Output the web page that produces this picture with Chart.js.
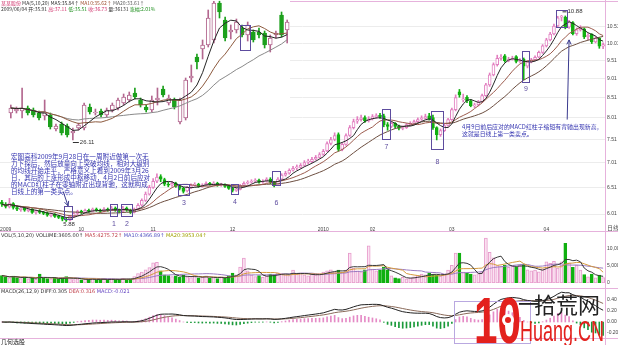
<!DOCTYPE html>
<html>
<head>
<meta charset="utf-8">
<script src="https://cdn.jsdelivr.net/npm/chart.js@4.4.1/dist/chart.umd.min.js"></script>
<style>
  body { margin: 0; background: #fff; }
  #wrap { position: relative; width: 618px; height: 345px; overflow: hidden; background: #fff; }
  canvas { position: absolute; left: 0; }
</style>
</head>
<body>
<div id="wrap">
  <canvas id="price" width="618" height="233" style="top:0"></canvas>
  <canvas id="volume" width="618" height="57" style="top:231px"></canvas>
  <canvas id="macd" width="618" height="57" style="top:288px"></canvas>
  <canvas id="inset" width="290" height="150" style="top:0"></canvas>
</div>
<script>
// ---- main daily chart ----
const monthTicks = [[1, '2009'], [21, '10'], [40, '11'], [61, '12'], [85, '2010'], [98, '02'], [119, '03'], [144, '04']];

const mainOpen = [
  6.23, 6.19, 6.14, 6.20, 6.13, 6.09, 6.12, 6.07, 6.10, 6.04,
  6.07, 6.04, 6.03, 5.98, 6.01, 5.97, 5.95, 5.91, 5.90, 5.97,
  6.02, 6.06, 6.04, 6.08, 6.06, 6.10, 6.08, 6.06, 6.10, 6.08,
  6.12, 6.08, 6.06, 6.12, 6.08, 6.04, 6.10, 6.17, 6.26, 6.38,
  6.51, 6.63, 6.72, 6.66, 6.57, 6.55, 6.59, 6.53, 6.49, 6.44,
  6.51, 6.55, 6.57, 6.53, 6.55, 6.59, 6.57, 6.59, 6.55, 6.57,
  6.53, 6.49, 6.45, 6.47, 6.55, 6.59, 6.61, 6.63, 6.65, 6.61,
  6.63, 6.67, 6.61, 6.55, 6.67, 6.75, 6.79, 6.85, 6.90, 6.91,
  6.95, 7.02, 7.03, 7.08, 7.12, 7.18, 7.26, 7.42, 7.51, 7.62,
  7.29, 7.40, 7.60, 7.78, 7.93, 7.97, 8.02, 7.94, 7.99, 8.04,
  8.07, 8.06, 7.85, 7.81, 7.88, 7.81, 7.76, 7.78, 7.85, 7.88,
  7.92, 7.98, 8.00, 8.06, 8.02, 7.78, 7.62, 7.71, 7.83, 7.97,
  8.21, 8.66, 8.45, 8.52, 8.43, 8.30, 8.33, 8.40, 8.56, 8.84,
  9.11, 9.39, 9.57, 9.64, 9.50, 9.55, 9.62, 9.48, 9.55, 9.35,
  9.47, 9.53, 9.60, 9.74, 9.93, 10.11, 10.29, 10.54, 10.82, 10.82,
  10.50, 10.65, 10.30, 10.42, 10.45, 10.20, 10.28, 10.05, 10.16, 9.92
];
const mainClose = [
  6.19, 6.15, 6.21, 6.13, 6.10, 6.12, 6.08, 6.10, 6.04, 6.06,
  6.04, 6.02, 5.99, 6.01, 5.97, 5.95, 5.92, 5.90, 5.97, 6.02,
  6.06, 6.04, 6.08, 6.06, 6.10, 6.08, 6.06, 6.10, 6.08, 6.12,
  6.08, 6.06, 6.12, 6.08, 6.04, 6.10, 6.17, 6.26, 6.38, 6.51,
  6.63, 6.71, 6.67, 6.57, 6.55, 6.59, 6.53, 6.49, 6.43, 6.51,
  6.55, 6.57, 6.53, 6.55, 6.59, 6.57, 6.59, 6.55, 6.57, 6.53,
  6.49, 6.45, 6.47, 6.55, 6.59, 6.61, 6.63, 6.65, 6.61, 6.63,
  6.67, 6.61, 6.55, 6.67, 6.75, 6.79, 6.85, 6.89, 6.91, 6.95,
  7.01, 7.03, 7.08, 7.12, 7.18, 7.25, 7.42, 7.51, 7.60, 7.29,
  7.40, 7.60, 7.78, 7.92, 7.97, 8.01, 7.94, 7.99, 8.04, 8.06,
  8.04, 7.85, 7.81, 7.88, 7.81, 7.76, 7.78, 7.85, 7.88, 7.92,
  7.97, 8.01, 8.04, 7.99, 7.78, 7.62, 7.71, 7.83, 7.97, 8.21,
  8.51, 8.58, 8.48, 8.43, 8.31, 8.33, 8.40, 8.56, 8.84, 9.11,
  9.39, 9.57, 9.60, 9.50, 9.55, 9.57, 9.48, 9.50, 9.35, 9.47,
  9.53, 9.60, 9.74, 9.93, 10.11, 10.29, 10.54, 10.80, 10.86, 10.50,
  10.67, 10.30, 10.42, 10.47, 10.20, 10.26, 10.05, 10.16, 9.92, 9.97
];
const mainHigh = [
  6.26, 6.22, 6.30, 6.22, 6.16, 6.14, 6.14, 6.13, 6.11, 6.08,
  6.09, 6.06, 6.05, 6.03, 6.02, 5.99, 5.97, 5.94, 5.99, 6.04,
  6.08, 6.08, 6.10, 6.10, 6.12, 6.12, 6.10, 6.13, 6.12, 6.15,
  6.14, 6.10, 6.15, 6.14, 6.10, 6.12, 6.20, 6.29, 6.42, 6.55,
  6.68, 6.78, 6.76, 6.69, 6.61, 6.63, 6.61, 6.56, 6.51, 6.53,
  6.58, 6.60, 6.59, 6.58, 6.62, 6.61, 6.62, 6.61, 6.59, 6.58,
  6.55, 6.51, 6.50, 6.57, 6.62, 6.64, 6.66, 6.68, 6.67, 6.66,
  6.70, 6.70, 6.63, 6.70, 6.78, 6.83, 6.88, 6.93, 6.96, 6.99,
  7.05, 7.08, 7.12, 7.16, 7.22, 7.29, 7.46, 7.56, 7.66, 7.66,
  7.44, 7.64, 7.83, 7.98, 8.04, 8.08, 8.06, 8.04, 8.09, 8.11,
  8.12, 8.10, 7.90, 7.92, 7.90, 7.84, 7.82, 7.88, 7.92, 7.96,
  8.01, 8.06, 8.10, 8.12, 8.08, 7.80, 7.75, 7.86, 8.00, 8.25,
  8.58, 8.72, 8.60, 8.56, 8.46, 8.37, 8.44, 8.60, 8.88, 9.16,
  9.44, 9.66, 9.68, 9.68, 9.60, 9.63, 9.65, 9.56, 9.58, 9.50,
  9.57, 9.64, 9.78, 9.97, 10.16, 10.34, 10.60, 10.85, 10.88, 10.86,
  10.72, 10.68, 10.48, 10.55, 10.48, 10.30, 10.30, 10.22, 10.18, 10.02
];
const mainLow = [
  6.15, 6.12, 6.12, 6.10, 6.07, 6.06, 6.06, 6.05, 6.02, 6.01,
  6.02, 6.00, 5.97, 5.96, 5.95, 5.93, 5.89, 5.88, 5.89, 5.95,
  6.00, 6.02, 6.03, 6.04, 6.05, 6.06, 6.04, 6.05, 6.06, 6.07,
  6.06, 6.03, 6.05, 6.06, 6.02, 6.03, 6.09, 6.15, 6.24, 6.36,
  6.49, 6.60, 6.62, 6.54, 6.52, 6.53, 6.51, 6.46, 6.40, 6.42,
  6.49, 6.53, 6.51, 6.51, 6.54, 6.55, 6.55, 6.53, 6.53, 6.51,
  6.47, 6.42, 6.43, 6.46, 6.53, 6.57, 6.59, 6.61, 6.59, 6.59,
  6.61, 6.58, 6.52, 6.54, 6.65, 6.73, 6.77, 6.83, 6.86, 6.89,
  6.93, 6.98, 7.01, 7.06, 7.10, 7.16, 7.24, 7.39, 7.48, 7.25,
  7.26, 7.38, 7.58, 7.75, 7.88, 7.93, 7.90, 7.91, 7.96, 8.00,
  8.00, 7.80, 7.72, 7.78, 7.77, 7.73, 7.73, 7.76, 7.83, 7.86,
  7.90, 7.95, 7.98, 7.96, 7.74, 7.50, 7.58, 7.69, 7.81, 7.95,
  8.18, 8.52, 8.40, 8.38, 8.28, 8.26, 8.30, 8.38, 8.54, 8.80,
  9.08, 9.35, 9.52, 9.46, 9.47, 9.52, 9.44, 9.45, 8.98, 9.30,
  9.44, 9.50, 9.58, 9.71, 9.90, 10.08, 10.26, 10.50, 10.70, 10.45,
  10.46, 10.26, 10.25, 10.38, 10.15, 10.12, 10.00, 10.02, 9.86, 9.85
];
const mainVolume = [
  2200, 1800, 1500, 2000, 1600, 1300, 1800, 1200, 1500, 1100,
  2600, 1500, 1300, 1200, 1400, 1100, 1600, 1900, 1300, 1000,
  1200, 900, 1100, 1000, 1300, 900, 1000, 1200, 800, 1300,
  1100, 900, 1400, 1000, 1200, 1900, 2800, 3200, 3900, 4500,
  5900, 6100, 3600, 2400, 2200, 1900, 2100, 1700, 2300, 1800,
  1600, 2000, 1500, 1700, 2100, 1400, 1600, 1300, 1800, 1500,
  2100, 2900, 2400, 4700, 7300, 3600, 2300, 1900, 2200, 1700,
  2000, 2600, 2400, 3000, 2800, 2500, 2200, 3800, 2600, 2900,
  2400, 2100, 2600, 2300, 2800, 3200, 3600, 3900, 3300, 3800,
  3200, 3800, 8800, 4400, 3600, 3300, 3900, 10900, 4100, 3600,
  3800, 4700, 3900, 2100, 1500, 1300, 1700, 1200, 1500, 1800,
  2200, 2600, 2400, 2900, 2500, 2300, 2000, 2700, 3800, 5200,
  8800, 8800, 3200, 2900, 2600, 2400, 2800, 3300, 13200, 9000,
  7400, 5100, 4800, 5300, 4600, 5000, 4700, 5300, 5600, 3900,
  3600, 3800, 3300, 4200, 6200, 5800, 6400, 4400, 6200, 11700,
  5900, 4600, 5200, 3800, 2500, 1800, 2600, 1500, 2300, 1600
];
const priceTicks = [10.51, 10.01, 9.51, 9.01, 8.51, 8.01, 7.51, 7.01, 6.51, 6.01];
const volumeTicks = [0, 5000, 10000];
const macdTicks = [-0.2, 0, 0.2, 0.4];

// boxes drawn around candles: first/last candle index, price range, number tag
const boxes = [
  { from: 17, to: 18, hi: 6.15, lo: 5.92, tag: '', tagAt: 0 },
  { from: 29, to: 30, hi: 6.19, lo: 5.97, tag: '1', tagAt: 5.84 },
  { from: 32, to: 34, hi: 6.19, lo: 5.97, tag: '2', tagAt: 5.84 },
  { from: 47, to: 49, hi: 6.57, lo: 6.36, tag: '3', tagAt: 6.21 },
  { from: 61, to: 62, hi: 6.58, lo: 6.39, tag: '4', tagAt: 6.23 },
  { from: 72, to: 73, hi: 6.84, lo: 6.55, tag: '6', tagAt: 6.21 },
  { from: 101, to: 102, hi: 8.23, lo: 7.51, tag: '7', tagAt: 7.35 },
  { from: 114, to: 116, hi: 8.18, lo: 7.29, tag: '8', tagAt: 7.03 },
  { from: 138, to: 139, hi: 9.77, lo: 8.92, tag: '9', tagAt: 8.74 },
  { from: 147, to: 149, hi: 11.05, lo: 10.52, tag: '', tagAt: 0 }
];

const noteBuy = [
  '宏图高科2009年9月28日在一周附近做第一次无',
  '力下探后，然后放量向上突破均线，相对大级别',
  '的均线开始走平，严格意义上看到2009年3月26',
  '日，其后的上涨形成中枢移动，4月2日前后应对',
  '的MACD红柱子在零轴附近出现背驰，这就构成',
  '日线上的第一类买点。'
];
const noteSell = [
  '4月9日前后应对的MACD红柱子缩短有背驰出现新高，',
  '这就是日线上第一类卖点。'
];

// ---- inset chart (another stock, pasted top left) ----
const insetOpen = [
  28.54, 28.72, 28.72, 28.99, 28.81, 28.54, 28.27, 28.36, 27.10, 27.55,
  27.37, 26.74, 27.19, 27.19, 29.08, 28.54, 28.72, 28.36, 28.81, 28.99,
  29.44, 29.71, 30.34, 29.71, 29.08, 28.81, 29.71, 30.70, 29.44, 29.71,
  27.73, 28.09, 31.69, 33.58, 34.30, 34.66, 35.11, 38.44, 36.91, 35.83,
  36.01, 36.19, 35.56, 35.83, 35.83, 35.74, 34.66, 35.56, 37.36, 36.01
];
const insetClose = [
  28.99, 28.90, 28.99, 28.54, 28.36, 28.09, 28.63, 27.28, 27.37, 26.74,
  26.56, 26.92, 27.46, 29.26, 28.63, 28.63, 28.36, 28.81, 29.26, 29.71,
  29.98, 30.16, 29.98, 29.26, 28.81, 29.71, 29.89, 30.16, 29.89, 29.08,
  29.71, 31.51, 31.87, 33.13, 34.66, 37.09, 38.44, 37.63, 35.29, 36.01,
  36.73, 35.56, 36.46, 35.11, 35.56, 34.66, 35.29, 35.74, 35.56, 36.73
];
const insetHigh = [
  29.26, 29.08, 30.79, 29.17, 28.99, 28.72, 29.71, 28.54, 27.55, 27.73,
  27.55, 27.19, 27.64, 29.44, 29.35, 28.90, 28.90, 28.99, 29.44, 29.89,
  30.25, 30.43, 30.79, 29.89, 29.26, 30.07, 30.79, 30.97, 30.16, 29.89,
  29.89, 31.69, 32.86, 33.85, 35.11, 37.81, 38.60, 38.60, 37.18, 36.46,
  37.00, 36.46, 36.73, 36.01, 36.19, 35.92, 35.56, 35.92, 37.63, 36.91
];
const insetLow = [
  28.09, 28.54, 28.09, 28.36, 28.18, 27.91, 27.91, 27.10, 26.92, 26.56,
  26.38, 26.11, 27.01, 27.01, 28.45, 28.36, 28.18, 28.18, 28.63, 28.81,
  29.26, 29.53, 29.80, 29.08, 28.63, 28.63, 29.26, 29.98, 29.26, 28.90,
  27.55, 27.91, 31.33, 32.50, 33.40, 34.48, 34.84, 37.09, 35.02, 35.20,
  35.74, 35.38, 35.02, 34.93, 35.29, 34.39, 34.03, 35.29, 35.38, 34.84
];
const insetBox = { from: 41, to: 42, hi: 36.46, lo: 34.21 };

// ---- helpers ----
Chart.defaults.font.family = '"Liberation Sans", "DejaVu Sans", sans-serif';
Chart.defaults.animation = false;

const PINK = '#e27fc0', GREEN = '#10b010', FRAME = '#e6b2dc', MARK = '#5d4c9e', NOTE = '#3434b0';
const CJK = '"Noto Sans CJK SC", sans-serif';

function sma(arr, n) {
  return arr.map((_, i) => {
    const s = arr.slice(Math.max(0, i - n + 1), i + 1);
    return s.reduce((a, b) => a + b, 0) / s.length;
  });
}
function ema(arr, n) {
  const k = 2 / (n + 1), out = [];
  arr.forEach((v, i) => out.push(i === 0 ? v : out[i - 1] + k * (v - out[i - 1])));
  return out;
}
function candleSets(o, h, l, c, up, upFill, down, thick) {
  const isUp = c.map((v, i) => v >= o[i]);
  return [
    { type: 'bar', data: l.map((v, i) => [v, h[i]]), backgroundColor: isUp.map(u => u ? up : down),
      barThickness: 1, grouped: false, order: 2 },
    { type: 'bar', data: o.map((v, i) => [v, c[i]]), backgroundColor: isUp.map(u => u ? upFill : down),
      borderColor: isUp.map(u => u ? up : down), borderWidth: 1, borderSkipped: false,
      barThickness: thick, minBarLength: 1, grouped: false, order: 1 }
  ];
}
function maLine(data, color) {
  return { type: 'line', data, borderColor: color, borderWidth: 1, pointRadius: 0, tension: 0, order: 0 };
}
function hline(ctx, x0, x1, y) { ctx.beginPath(); ctx.moveTo(x0, y); ctx.lineTo(x1, y); ctx.stroke(); }
function vline(ctx, x, y0, y1) { ctx.beginPath(); ctx.moveTo(x, y0); ctx.lineTo(x, y1); ctx.stroke(); }
function arrow(ctx, x0, y0, x1, y1) {
  ctx.beginPath(); ctx.moveTo(x0, y0); ctx.lineTo(x1, y1); ctx.stroke();
  const a = Math.atan2(y1 - y0, x1 - x0);
  ctx.beginPath();
  ctx.moveTo(x1 - 5 * Math.cos(a - 0.45), y1 - 5 * Math.sin(a - 0.45));
  ctx.lineTo(x1, y1);
  ctx.lineTo(x1 - 5 * Math.cos(a + 0.45), y1 - 5 * Math.sin(a + 0.45));
  ctx.stroke();
}
function segments(ctx, segs, x, y, font) {
  ctx.font = font; ctx.textBaseline = 'middle'; ctx.textAlign = 'left';
  segs.forEach(([t, c]) => { ctx.fillStyle = c; ctx.fillText(t, x, y); x += ctx.measureText(t).width; });
}
const fixAxis = w => s => { s.width = w; s.paddingTop = 0; s.paddingBottom = 0; };

const N = mainClose.length;
const dates = mainClose.map(() => '');
monthTicks.forEach(([i, t]) => { dates[i] = t; });
const upDay = mainClose.map((v, i) => v >= mainOpen[i]);

// ---- price panel ----
const priceMarks = {
  id: 'priceMarks',
  afterDraw(chart) {
    const { ctx, scales: { x, y } } = chart;
    ctx.save();
    ctx.lineWidth = 1;
    ctx.strokeStyle = FRAME;
    hline(ctx, 0, 618, 1.5);
    hline(ctx, 0, 618, 231.5);
    vline(ctx, 605.5, 0, 233);

    ctx.strokeStyle = MARK; ctx.fillStyle = MARK;
    ctx.font = '7px "Liberation Sans"'; ctx.textAlign = 'center'; ctx.textBaseline = 'middle';
    boxes.forEach(b => {
      const x0 = Math.round(x.getPixelForValue(b.from) - 2) + 0.5;
      const x1 = Math.round(x.getPixelForValue(b.to) + 2) + 0.5;
      const y0 = Math.round(y.getPixelForValue(b.hi)) + 0.5;
      const y1 = Math.round(y.getPixelForValue(b.lo)) + 0.5;
      ctx.strokeRect(x0, y0, x1 - x0, y1 - y0);
      if (b.tag) ctx.fillText(b.tag, (x0 + x1) / 2, y.getPixelForValue(b.tagAt));
    });

    // high / low marks
    const hi = mainHigh.indexOf(Math.max(...mainHigh));
    const lo = mainLow.indexOf(Math.min(...mainLow));
    ctx.fillStyle = '#333'; ctx.strokeStyle = '#333';
    ctx.font = '6px "Liberation Sans"'; ctx.textAlign = 'left';
    const hx = x.getPixelForValue(hi), hy = y.getPixelForValue(mainHigh[hi]);
    hline(ctx, hx + 1, hx + 5, hy - 3.5);
    ctx.fillText(mainHigh[hi].toFixed(2), hx + 6, hy - 3.5);
    const lx = x.getPixelForValue(lo), ly = y.getPixelForValue(mainLow[lo]);
    ctx.fillText(mainLow[lo].toFixed(2), lx - 3, ly + 3);

    // notes and arrows
    ctx.fillStyle = NOTE;
    ctx.font = '6.6px ' + CJK;
    noteBuy.forEach((t, i) => ctx.fillText(t, 11, 156 + i * 7));
    ctx.font = '5.9px ' + CJK;
    noteSell.forEach((t, i) => ctx.fillText(t, 462, 127 + i * 7));
    ctx.strokeStyle = '#3a3a8e';
    arrow(ctx, x.getPixelForValue(16.2), y.getPixelForValue(6.43), x.getPixelForValue(17.5), y.getPixelForValue(6.16));
    arrow(ctx, x.getPixelForValue(149.5), y.getPixelForValue(7.97), x.getPixelForValue(150), y.getPixelForValue(10.11));

    ctx.fillStyle = '#555'; ctx.font = '6px ' + CJK;
    ctx.fillText('日线', 607, 228);
    ctx.restore();
  }
};

new Chart(document.getElementById('price'), {
  type: 'bar',
  data: {
    labels: dates,
    datasets: [
      ...candleSets(mainOpen, mainHigh, mainLow, mainClose, PINK, '#ffffff', GREEN, 3),
      maLine(sma(mainClose, 5), '#262626'),
      maLine(sma(mainClose, 10), '#9b5a4c'),
      maLine(sma(mainClose, 20), '#6c4e40')
    ]
  },
  options: {
    responsive: false, devicePixelRatio: 1,
    layout: { padding: 0 },
    plugins: { legend: { display: false }, tooltip: { enabled: false } },
    scales: {
      x: {
        offset: true,
        grid: { display: false, drawTicks: false }, border: { display: false },
        ticks: { autoSkip: false, maxRotation: 0, padding: 1, color: '#444', font: { size: 5 },
                 callback: (v, i) => dates[i] },
        afterFit: s => { s.height = 7; }
      },
      y: {
        type: 'logarithmic', position: 'right', min: 5.813, max: 11.39,
        afterBuildTicks: s => { s.ticks = priceTicks.map(v => ({ value: v })); },
        afterFit: fixAxis(13),
        grid: { color: '#ececec', drawTicks: false }, border: { display: false },
        ticks: { padding: 2, color: '#444', font: { size: 5 }, callback: v => Number(v).toFixed(2) }
      }
    }
  },
  plugins: [priceMarks]
});

// ---- volume panel ----
const volumeMarks = {
  id: 'volumeMarks',
  afterDraw(chart) {
    const { ctx } = chart;
    ctx.save();
    ctx.strokeStyle = FRAME; ctx.lineWidth = 1;
    vline(ctx, 605.5, 0, 57);
    segments(ctx, [
      ['VOL(5,10,20) VOLUME:3605.00↑ ', '#333'],
      ['MA5:4275.72↑ ', '#c0404a'],
      ['MA10:4366.89↑ ', '#5050c0'],
      ['MA20:3953.04↑', '#a0a000']
    ], 1, 4.5, '5px "DejaVu Sans"');
    ctx.restore();
  }
};

new Chart(document.getElementById('volume'), {
  type: 'bar',
  data: {
    labels: dates,
    datasets: [
      { type: 'bar', data: mainVolume, barThickness: 3, borderWidth: 1, borderSkipped: false, order: 1,
        backgroundColor: upDay.map(u => u ? '#fbe3f2' : GREEN),
        borderColor: upDay.map(u => u ? '#e79ccc' : GREEN) },
      maLine(sma(mainVolume, 5), '#3a3a3a'),
      maLine(sma(mainVolume, 10), '#d49a3c'),
      maLine(sma(mainVolume, 20), '#9a7ac0')
    ]
  },
  options: {
    responsive: false, devicePixelRatio: 1,
    layout: { padding: { top: 1, bottom: 5 } },
    plugins: { legend: { display: false }, tooltip: { enabled: false } },
    scales: {
      x: { display: false, offset: true },
      y: {
        position: 'right', min: 0, max: 15000,
        afterBuildTicks: s => { s.ticks = volumeTicks.map(v => ({ value: v })); },
        afterFit: fixAxis(13),
        grid: { display: false, drawTicks: false }, border: { display: false },
        ticks: { padding: 2, color: '#444', font: { size: 5 } }
      }
    }
  },
  plugins: [volumeMarks]
});

// ---- MACD panel ----
const dif = ema(mainClose, 12).map((v, i) => v - ema(mainClose, 26)[i]);
const dea = ema(dif, 9);
const macdBar = dif.map((v, i) => 2 * (v - dea[i]));

const macdMarks = {
  id: 'macdMarks',
  afterDraw(chart) {
    const { ctx } = chart;
    ctx.save();
    ctx.strokeStyle = FRAME; ctx.lineWidth = 1;
    hline(ctx, 0, 618, 0.5);
    hline(ctx, 0, 618, 50.5);
    vline(ctx, 605.5, 0, 57);
    segments(ctx, [
      ['MACD(26,12,9) ', '#333'],
      ['DIFF:0.305 ', '#333'],
      ['DEA:0.316 ', '#c0404a'],
      ['MACD:-0.021', '#6040c0']
    ], 1, 3.5, '5px "DejaVu Sans"');
    ctx.fillStyle = '#222'; ctx.font = '6px ' + CJK; ctx.textBaseline = 'middle';
    ctx.fillText('几何选股', 1, 53.5);

    // site watermark
    ctx.strokeStyle = '#b9a8e0';
    ctx.strokeRect(454.5, 13.5, 76, 42);
    ctx.fillStyle = '#e3211d';
    ctx.font = 'bold 64px "Liberation Sans"';
    ctx.textBaseline = 'alphabetic';
    const w10 = ctx.measureText('10').width;
    ctx.save();
    ctx.translate(474, 55);
    ctx.scale(47 / w10, 1);
    ctx.fillText('10', 0, 0);
    ctx.restore();
    ctx.fillStyle = '#ffffff';
    ctx.beginPath(); ctx.arc(508, 32, 6, 0, Math.PI * 2); ctx.fill();
    ctx.fillStyle = '#e3211d';
    ctx.beginPath(); ctx.arc(508, 32, 3, 0, Math.PI * 2); ctx.fill();
    ctx.fillStyle = '#222';
    ctx.font = '22px ' + CJK;
    ctx.textBaseline = 'middle';
    ctx.fillText('一', 518, 16);
    ctx.fillText('拾荒网', 534, 17);
    ctx.fillStyle = '#e3211d';
    ctx.font = '30px "Liberation Sans Narrow", "Liberation Sans"';
    ctx.textBaseline = 'alphabetic';
    const wh = ctx.measureText('Huang.CN').width;
    ctx.save();
    ctx.translate(520, 53);
    ctx.scale(84 / wh, 1);
    ctx.fillText('Huang.CN', 0, 0);
    ctx.restore();
    ctx.restore();
  }
};

new Chart(document.getElementById('macd'), {
  type: 'bar',
  data: {
    labels: dates,
    datasets: [
      { type: 'bar', data: macdBar, barThickness: 1, order: 1,
        backgroundColor: macdBar.map(v => v >= 0 ? '#e58bc6' : '#1a9a3a') },
      maLine(dif, '#222222'),
      maLine(dea, '#8a6a5a')
    ]
  },
  options: {
    responsive: false, devicePixelRatio: 1,
    layout: { padding: { top: 0, bottom: 7 } },
    plugins: { legend: { display: false }, tooltip: { enabled: false } },
    scales: {
      x: { display: false, offset: true },
      y: {
        position: 'right', min: -0.291, max: 0.618,
        afterBuildTicks: s => { s.ticks = macdTicks.map(v => ({ value: v })); },
        afterFit: fixAxis(13),
        grid: { display: false, drawTicks: false }, border: { display: false },
        ticks: { padding: 2, color: '#444', font: { size: 5 }, callback: v => Number(v).toFixed(2) }
      }
    }
  },
  plugins: [macdMarks]
});

// ---- inset ----
const insetMarks = {
  id: 'insetMarks',
  beforeDraw(chart) {
    const { ctx } = chart;
    ctx.save(); ctx.fillStyle = '#fff'; ctx.fillRect(0, 0, 290, 150); ctx.restore();
  },
  afterDraw(chart) {
    const { ctx, scales: { x, y } } = chart;
    ctx.save();
    ctx.strokeStyle = MARK; ctx.lineWidth = 1;
    const x0 = Math.round(x.getPixelForValue(insetBox.from) - 2) + 0.5;
    const x1 = Math.round(x.getPixelForValue(insetBox.to) + 2) + 0.5;
    const y0 = Math.round(y.getPixelForValue(insetBox.hi)) + 0.5;
    const y1 = Math.round(y.getPixelForValue(insetBox.lo)) + 0.5;
    ctx.strokeRect(x0, y0, x1 - x0, y1 - y0);

    const lo = insetLow.indexOf(Math.min(...insetLow));
    const lx = x.getPixelForValue(lo), ly = y.getPixelForValue(insetLow[lo]);
    ctx.strokeStyle = '#333'; ctx.fillStyle = '#333';
    hline(ctx, lx, lx + 6, ly + 2.5);
    ctx.font = '6px "Liberation Sans"'; ctx.textBaseline = 'middle';
    ctx.fillText(insetLow[lo].toFixed(2), lx + 7, ly + 2.5);

    segments(ctx, [
      ['某某股份 ', '#d0306a'], ['MA(5,10,20) ', '#333'], ['MA5:35.84↑ ', '#333'],
      ['MA10:35.62↑ ', '#a05030'], ['MA20:33.61↑', '#606060']
    ], 1, 3, '5px ' + CJK);
    segments(ctx, [
      ['2009/06/04 ', '#333'], ['开:35.91 ', '#333'], ['高:37.11 ', '#d0306a'], ['低:35.51 ', '#209020'],
      ['收:36.73 ', '#d0306a'], ['量:36131 ', '#333'], ['涨幅:2.01%', '#209020']
    ], 1, 9, '5px ' + CJK);
    ctx.restore();
  }
};

new Chart(document.getElementById('inset'), {
  type: 'bar',
  data: {
    labels: insetClose.map((_, i) => i),
    datasets: [
      ...candleSets(insetOpen, insetHigh, insetLow, insetClose, '#b3678f', '#ffffff', '#1ca01c', 4),
      maLine(sma(insetClose, 5), '#262626'),
      maLine(sma(insetClose, 10), '#8d5a3e'),
      maLine(sma(insetClose, 20), '#8a8a8a')
    ]
  },
  options: {
    responsive: false, devicePixelRatio: 1,
    layout: { padding: { left: 8, top: 0, right: 0, bottom: 2 } },
    plugins: { legend: { display: false }, tooltip: { enabled: false } },
    scales: {
      x: { display: false, offset: true },
      y: { display: false, min: 25.39, max: 38.71 }
    }
  },
  plugins: [insetMarks]
});
</script>
</body>
</html>
